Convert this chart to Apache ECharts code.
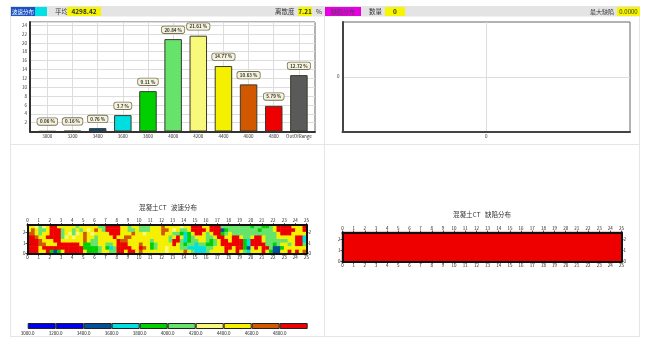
<!DOCTYPE html>
<html>
<head>
<meta charset="utf-8">
<title>混凝土CT</title>
<script src="https://cdn.jsdelivr.net/npm/echarts@6/dist/echarts.min.js"></script>
<style>
html,body{margin:0;padding:0;background:#fff;overflow:hidden;}
#chart{width:650px;height:352px;filter:blur(0.5px);}
</style>
</head>
<body>
<div id="chart"></div>
<script>
var binLabels = ["3000","3200","3400","3600","3800","4000","4200","4400","4600","4800","OutOfRange"];
var binPercents = [0.06,0.16,0.76,3.7,9.11,20.84,21.61,14.77,10.63,5.79,12.72];
var binColors = ["#0000c8","#0000c8","#00509a","#00dfe0","#00cf00","#66e36a","#f8f87a","#f4f000","#d25800","#ee0000","#5a5a5a"];

var legendStarts = [3000,3200,3400,3600,3800,4000,4200,4400,4600,4800];
var legendColors = ["#0000ee","#0000ee","#00509a","#00dfe0","#00cf00","#66e36a","#f8f87a","#f4f000","#d25800","#ee0000"];
var tickNumbers = [0,1,2,3,4,5,6,7,8,9,10,11,12,13,14,15,16,17,18,19,20,21,22,23,24,25];
var depthTicks = [0,1,2];

//波速分布 每格为色带序号(对应legendStarts) 从上到下8行
var speedRow0 = [7,7,6,5,6,7,9,9,7,7,7,7,7,5,7,7,7,7,7,5,5,9,9,9,9,7,7,5,7,7,5,5,5,7,7,7,8,7,7,7,7,6,7,7,9,9,9,7,7,9,9,9,5,5,5,5,5,5,5,5,4,5,5,4,4,5,7,9,9,9,9,7,7,7,9];
var speedRow1 = [7,8,7,5,5,7,9,9,9,5,7,7,5,7,5,7,6,7,8,7,5,9,9,9,9,7,7,5,5,7,5,5,5,7,7,7,8,8,7,6,7,5,5,7,9,9,9,9,7,9,9,9,2,4,5,5,5,5,5,5,5,5,4,5,5,5,7,9,9,9,9,9,7,7,9];
var speedRow2 = [8,8,7,5,7,7,9,9,9,5,7,6,5,6,7,8,7,6,7,7,7,7,9,9,9,7,7,7,8,7,7,6,7,7,7,7,8,7,7,5,5,4,3,4,7,9,9,7,5,7,9,9,4,5,7,5,5,5,5,5,5,5,5,5,5,5,5,7,9,9,9,7,7,7,7];
var speedRow3 = [9,9,8,7,7,9,9,9,9,5,6,7,6,7,7,8,7,7,5,7,7,7,7,9,7,7,8,8,7,7,7,7,7,7,7,7,7,7,5,7,9,7,3,4,5,7,7,7,5,5,7,9,9,7,7,9,9,7,5,5,7,9,9,7,5,5,5,7,7,7,7,7,9,9,3];
var speedRow4 = [9,9,9,8,7,7,7,9,9,7,7,7,7,7,7,8,7,5,5,7,7,7,7,7,9,8,8,7,7,7,7,7,7,5,7,7,7,7,5,9,9,5,3,4,5,5,7,7,5,4,5,7,9,9,7,9,9,9,4,3,9,9,9,7,5,5,5,5,5,5,7,7,9,9,3];
var speedRow5 = [9,9,9,8,8,7,7,7,9,9,9,9,9,9,7,4,4,5,5,7,7,5,5,7,9,9,9,7,7,7,8,7,7,4,5,7,7,7,7,9,7,5,4,5,5,3,5,5,4,4,5,7,9,9,9,9,9,9,4,3,9,9,9,9,5,5,4,5,7,7,5,7,9,9,5];
var speedRow6 = [9,9,9,7,9,9,9,9,9,9,9,9,9,9,9,4,4,4,4,5,7,4,3,5,9,9,9,9,7,7,9,8,7,4,5,7,7,6,7,7,7,5,5,3,3,3,3,3,5,5,7,7,7,9,9,7,9,9,4,2,7,9,7,9,9,5,2,2,4,7,7,7,7,7,7];
var speedRow7 = [9,9,9,7,7,9,4,2,4,7,9,9,9,9,9,7,4,4,4,5,7,7,5,5,9,9,7,9,9,7,8,7,7,7,7,7,7,6,7,7,7,7,8,7,5,3,3,3,5,7,7,7,7,9,7,7,9,7,5,3,7,7,7,9,7,4,2,2,7,7,9,7,9,7,8];
var speedRows = [speedRow0,speedRow1,speedRow2,speedRow3,speedRow4,speedRow5,speedRow6,speedRow7];

//缺陷分布 全部为0
var defectRow0 = [0,0,0,0,0,0,0,0,0,0,0,0,0,0,0,0,0,0,0,0,0,0,0,0,0];
var defectRow1 = [0,0,0,0,0,0,0,0,0,0,0,0,0,0,0,0,0,0,0,0,0,0,0,0,0];
var defectRow2 = [0,0,0,0,0,0,0,0,0,0,0,0,0,0,0,0,0,0,0,0,0,0,0,0,0];
var defectRows = [defectRow0,defectRow1,defectRow2];

var fontName = '"Noto Sans CJK SC","Liberation Sans",sans-serif';

function indexList(n){
    var list = [];
    for(var i = 0; i < n; i++){ list.push(i); }
    return list;
}

//行从上到下 转成heatmap的[x,y,value]
function toCells(rows){
    var cells = [];
    for(var r = 0; r < rows.length; r++){
        for(var c = 0; c < rows[r].length; c++){
            cells.push([c, rows.length - 1 - r, rows[r][c]]);
        }
    }
    return cells;
}

function blockLabel(){
    return {fontSize:4.5,color:"#222",margin:2,fontFamily:fontName};
}
function hiddenCat(gridIndex,n){
    return {type:"category",gridIndex:gridIndex,show:false,data:indexList(n)};
}
function numberAxisX(gridIndex,position){
    return {type:"value",gridIndex:gridIndex,position:position,min:0,max:25,z:5,
        axisLine:{show:true,onZero:false,lineStyle:{color:"#111",width:2}},
        axisTick:{show:true,length:2,customValues:tickNumbers,lineStyle:{color:"#111",width:0.7}},
        axisLabel:Object.assign(blockLabel(),{customValues:tickNumbers}),
        splitLine:{show:false}};
}
function numberAxisY(gridIndex,position,maxValue){
    return {type:"value",gridIndex:gridIndex,position:position,min:0,max:maxValue,z:5,
        axisLine:{show:true,onZero:false,lineStyle:{color:"#111",width:2}},
        axisTick:{show:true,length:2,customValues:depthTicks,lineStyle:{color:"#111",width:0.7}},
        axisLabel:Object.assign(blockLabel(),{customValues:depthTicks}),
        splitLine:{show:false}};
}

var barData = binPercents.map(function(v,i){
    return {value:[i,v],itemStyle:{color:binColors[i]}};
});
var legendData = legendStarts.map(function(v,i){
    return {value:1,itemStyle:{color:legendColors[i]}};
});

//面板边框和顶部信息条
function rect(x,y,w,h,fill){
    return {type:"rect",shape:{x:x,y:y,width:w,height:h},style:{fill:fill},silent:true};
}
function line(x1,y1,x2,y2){
    return {type:"line",shape:{x1:x1,y1:y1,x2:x2,y2:y2},style:{stroke:"#e6e6e6",lineWidth:1},silent:true};
}
function text(str,x,y,size,color,align,weight){
    return {type:"text",x:x,y:y,silent:true,style:{text:str,fontSize:size,fill:color,align:align||"left",verticalAlign:"middle",fontFamily:fontName,fontWeight:weight||"normal"}};
}

var graphics = [
    rect(10,6,630,10.5,"#e4e4e4"),
    line(10.5,16,10.5,337),
    line(10,144.5,640,144.5),
    line(10,336.5,640,336.5),
    line(324.5,16,324.5,337),
    line(639.5,16,639.5,337),
    rect(11,7,24,9,"#1a52c4"),
    rect(35,7,12,9,"#00e0e6"),
    text("波速分布",23,11.5,5.5,"#fff","center"),
    text("平均",55,11.5,6.5,"#333"),
    rect(67,7,34,9,"#f6f600"),
    text("4298.42",84,11.5,6.5,"#333","center","bold"),
    text("离散度",275,11.5,6.5,"#333"),
    rect(298,7,14,9,"#f6f600"),
    text("7.21",305,11.5,6.5,"#333","center","bold"),
    text("%",316,11.5,6.5,"#333"),
    rect(325,7,36,9,"#e600e0"),
    text("缺陷分布",343,11.5,6,"#444","center"),
    text("数量",369,11.5,6.5,"#333"),
    rect(385,7,20,9,"#f6f600"),
    text("0",395,11.5,6.5,"#333","center","bold"),
    text("最大缺陷",590,11.5,6,"#333"),
    rect(617,7,23,9,"#f6f600"),
    text("0.0000",628.5,11.5,6,"#333","center"),
    text("混凝土CT   波速分布",168,207.5,6.5,"#333","center"),
    text("混凝土CT   缺陷分布",482,215,6.5,"#333","center")
];

var option = {
    animation:false,
    textStyle:{fontFamily:fontName},
    graphic:{elements:graphics},
    grid:[
        {left:30,top:22,width:285,height:109.5,show:true,borderColor:"#666",borderWidth:1,backgroundColor:"#fff"},
        {left:342.5,top:22,width:287.5,height:109.5,show:true,borderColor:"#666",borderWidth:1,backgroundColor:"#fff"},
        {left:27.5,top:225,width:279,height:28.5},
        {left:342.5,top:232.5,width:279,height:29},
        {left:27.7,top:323,width:280,height:6}
    ],
    xAxis:[
        //0 柱状图
        {type:"value",gridIndex:0,min:-0.69,max:10.64,
            axisLine:{show:true,onZero:false,lineStyle:{color:"#333",width:2}},
            axisTick:{show:false,customValues:indexList(binLabels.length)},
            axisLabel:{fontSize:4.5,color:"#333",margin:3,customValues:indexList(binLabels.length),formatter:function(v){ return binLabels[v]; }},
            splitLine:{show:true,lineStyle:{color:"#ddd",width:1}}},
        //1 缺陷散点
        {type:"value",gridIndex:1,min:-1,max:1,
            axisLine:{show:true,onZero:false,lineStyle:{color:"#444",width:2}},
            axisTick:{show:false,customValues:[0]},
            axisLabel:{fontSize:4.5,color:"#333",margin:3,customValues:[0]},
            splitLine:{show:true,lineStyle:{color:"#ddd",width:1}}},
        //2-4 波速
        hiddenCat(2,speedRow0.length),
        numberAxisX(2,"bottom"),
        numberAxisX(2,"top"),
        //5-7 缺陷
        hiddenCat(3,defectRow0.length),
        numberAxisX(3,"bottom"),
        numberAxisX(3,"top"),
        //8-9 色带
        {type:"category",gridIndex:4,show:false,data:legendStarts},
        {type:"value",gridIndex:4,position:"bottom",min:3000,max:5000,interval:200,
            axisLine:{show:false},axisTick:{show:false},splitLine:{show:false},
            axisLabel:{fontSize:4.5,color:"#222",margin:2,showMaxLabel:false,formatter:function(v){ return v.toFixed(1); }}}
    ],
    yAxis:[
        {type:"value",gridIndex:0,min:0,max:24.7,interval:2,
            axisLine:{show:true,onZero:false,lineStyle:{color:"#333",width:2}},
            axisTick:{show:false},
            axisLabel:{fontSize:4.5,color:"#333",margin:3,showMinLabel:false,showMaxLabel:false},
            splitLine:{show:true,lineStyle:{color:"#ddd",width:1}}},
        {type:"value",gridIndex:1,min:-1,max:1,
            axisLine:{show:true,onZero:false,lineStyle:{color:"#444",width:2}},
            axisTick:{show:false,customValues:[0]},
            axisLabel:{fontSize:4.5,color:"#333",margin:3,customValues:[0]},
            splitLine:{show:true,lineStyle:{color:"#ddd",width:1}}},
        hiddenCat(2,speedRows.length),
        numberAxisY(2,"left",2.7),
        numberAxisY(2,"right",2.7),
        hiddenCat(3,defectRows.length),
        numberAxisY(3,"left",2.6),
        numberAxisY(3,"right",2.6),
        {type:"value",gridIndex:4,show:false,min:0,max:1},
        {type:"value",gridIndex:4,show:false,min:0,max:1}
    ],
    visualMap:[
        {show:false,type:"piecewise",seriesIndex:1,dimension:2,
            pieces:legendColors.map(function(c,i){ return {value:i,color:c}; })},
        {show:false,type:"piecewise",seriesIndex:2,dimension:2,
            pieces:[{value:0,color:"#ee0000"}]}
    ],
    series:[
        {type:"bar",xAxisIndex:0,yAxisIndex:0,barWidth:17.5,data:barData,
            itemStyle:{borderColor:"#3a3a2a",borderWidth:1},
            label:{show:true,position:"top",distance:6,fontSize:4.5,fontWeight:"bold",color:"#333",
                backgroundColor:"#f6f3dc",borderColor:"#77745a",borderWidth:0.8,borderRadius:2,padding:[1,2.5],
                formatter:function(p){ return p.value[1] + " %"; }}},
        {type:"heatmap",xAxisIndex:2,yAxisIndex:2,z:1,data:toCells(speedRows)},
        {type:"heatmap",xAxisIndex:5,yAxisIndex:5,z:1,data:toCells(defectRows),
            itemStyle:{borderColor:"#ee0000",borderWidth:1}},
        {type:"bar",xAxisIndex:8,yAxisIndex:8,barWidth:"100%",data:legendData,
            itemStyle:{borderColor:"#222",borderWidth:1}},
        {type:"scatter",xAxisIndex:1,yAxisIndex:1,data:[]}
    ]
};

var chart = echarts.init(document.getElementById("chart"));
chart.setOption(option);
</script>
</body>
</html>
